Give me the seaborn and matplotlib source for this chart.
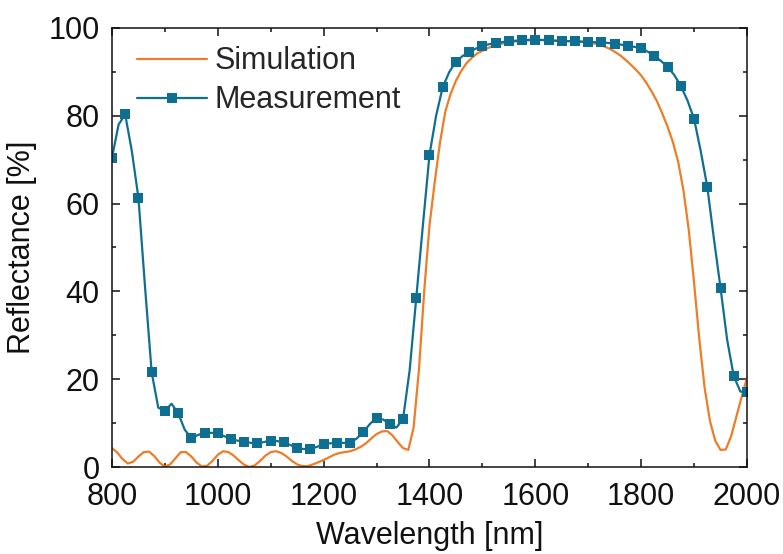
import numpy as np
import pandas as pd
import matplotlib
matplotlib.use("Agg")
import matplotlib.pyplot as plt
from matplotlib.ticker import MultipleLocator
import seaborn as sns

# simulated reflectance, every 10 nm
sim_wl = list(range(800, 2001, 10))
sim_r = [4.3, 3.3, 1.8, 0.8, 1.2, 2.4, 3.4, 3.5, 2.5, 1.0,
         0.1, 0.6, 2.0, 3.4, 3.4, 2.4, 1.0, 0.1, 0.3, 1.4,
         2.8, 3.6, 3.4, 2.6, 1.5, 0.5, 0.0, 0.4, 1.4, 2.6,
         3.4, 3.6, 3.2, 2.4, 1.4, 0.6, 0.2, 0.2, 0.6, 1.1,
         1.6, 2.2, 2.8, 3.2, 3.4, 3.6, 4.0, 4.6, 5.4, 6.5,
         7.5, 8.1, 8.2, 7.2, 5.7, 4.3, 3.9, 9.0, 22.0, 40.0,
         55.0, 65.0, 74.0, 81.0, 85.0, 88.0, 90.2, 92.0, 93.2, 94.2,
         94.8, 95.4, 95.9, 96.2, 96.5, 96.7, 96.9, 97.0, 97.1, 97.2,
         97.2, 97.2, 97.2, 97.2, 97.1, 97.1, 97.0, 97.0, 96.9, 96.8,
         96.7, 96.5, 96.2, 95.8, 95.3, 94.6, 93.8, 92.8, 91.7, 90.5,
         89.2, 87.5, 85.5, 83.3, 80.5, 77.5, 74.0, 69.5, 63.0, 54.0,
         42.0, 29.0, 18.0, 10.5, 6.0, 3.9, 4.0, 7.0, 11.5, 16.0,
         20.3]

# measured reflectance, every 12.5 nm (markers on every 25 nm)
meas_wl = [800 + 12.5 * i for i in range(97)]
meas_r = [70.4, 78.0, 80.3, 72.0, 61.3, 41.0, 21.6, 13.5, 12.8, 14.4,
          12.3, 8.5, 6.6, 7.3, 7.8, 7.8, 7.7, 7.0, 6.4, 6.0,
          5.8, 5.5, 5.4, 5.7, 6.0, 5.9, 5.6, 5.0, 4.3, 4.1,
          4.1, 4.6, 5.2, 5.4, 5.5, 5.5, 5.5, 6.5, 8.0, 9.8,
          11.2, 10.8, 9.8, 9.0, 10.9, 22.0, 38.5, 55.0, 71.1, 80.0,
          86.5, 90.0, 92.3, 93.6, 94.5, 95.3, 95.9, 96.3, 96.6, 96.8,
          97.0, 97.1, 97.2, 97.3, 97.3, 97.3, 97.2, 97.1, 97.0, 97.0,
          97.0, 96.9, 96.8, 96.8, 96.7, 96.6, 96.4, 96.2, 95.9, 95.7,
          95.4, 94.6, 93.6, 92.5, 91.1, 89.3, 86.8, 83.5, 79.3, 72.0,
          63.8, 52.0, 40.8, 29.0, 20.7, 17.2, 17.0]

sim = pd.DataFrame({"wl": sim_wl, "R": sim_r})
meas = pd.DataFrame({"wl": meas_wl, "R": meas_r})

sns.set_style("ticks")
plt.rcParams["font.family"] = ["Liberation Sans", "DejaVu Sans"]

orange = "#EE7D28"
blue = "#0F6F93"
fs = 22

fig = plt.figure(figsize=(7.83, 5.54), dpi=100)
ax = fig.add_axes([0.143, 0.157, 0.811, 0.7925])

sns.lineplot(data=sim, x="wl", y="R", ax=ax, color=orange, lw=1.6,
             label="Simulation")
sns.lineplot(data=meas, x="wl", y="R", ax=ax, color=blue, lw=1.6,
             marker="s", markersize=6.5, markevery=2, markeredgewidth=0,
             label="Measurement")

ax.set_xlim(800, 2000)
ax.set_ylim(0, 100)
ax.xaxis.set_major_locator(MultipleLocator(200))
ax.xaxis.set_minor_locator(MultipleLocator(100))
ax.yaxis.set_major_locator(MultipleLocator(20))
ax.yaxis.set_minor_locator(MultipleLocator(10))
ax.tick_params(which="both", direction="in", top=True, right=True,
               width=1.1, labelsize=fs, colors="#111111")
ax.tick_params(axis="x", pad=11)
ax.tick_params(axis="y", pad=9)
ax.tick_params(which="major", length=5.5)
ax.tick_params(which="minor", length=3)
for s in ax.spines.values():
    s.set_linewidth(1.1)
    s.set_color("#111111")

ax.set_xlabel("Wavelength [nm]", fontsize=fs, labelpad=6, color="#111111")
ax.set_ylabel("Reflectance [%]", fontsize=fs, labelpad=8, color="#111111")

ax.legend(loc="upper left", bbox_to_anchor=(0.01, 1.0), frameon=False,
          fontsize=fs, handlelength=2.3, handletextpad=0.25,
          labelspacing=0.3, borderaxespad=0.2)

fig.savefig("out.png", dpi=100)
